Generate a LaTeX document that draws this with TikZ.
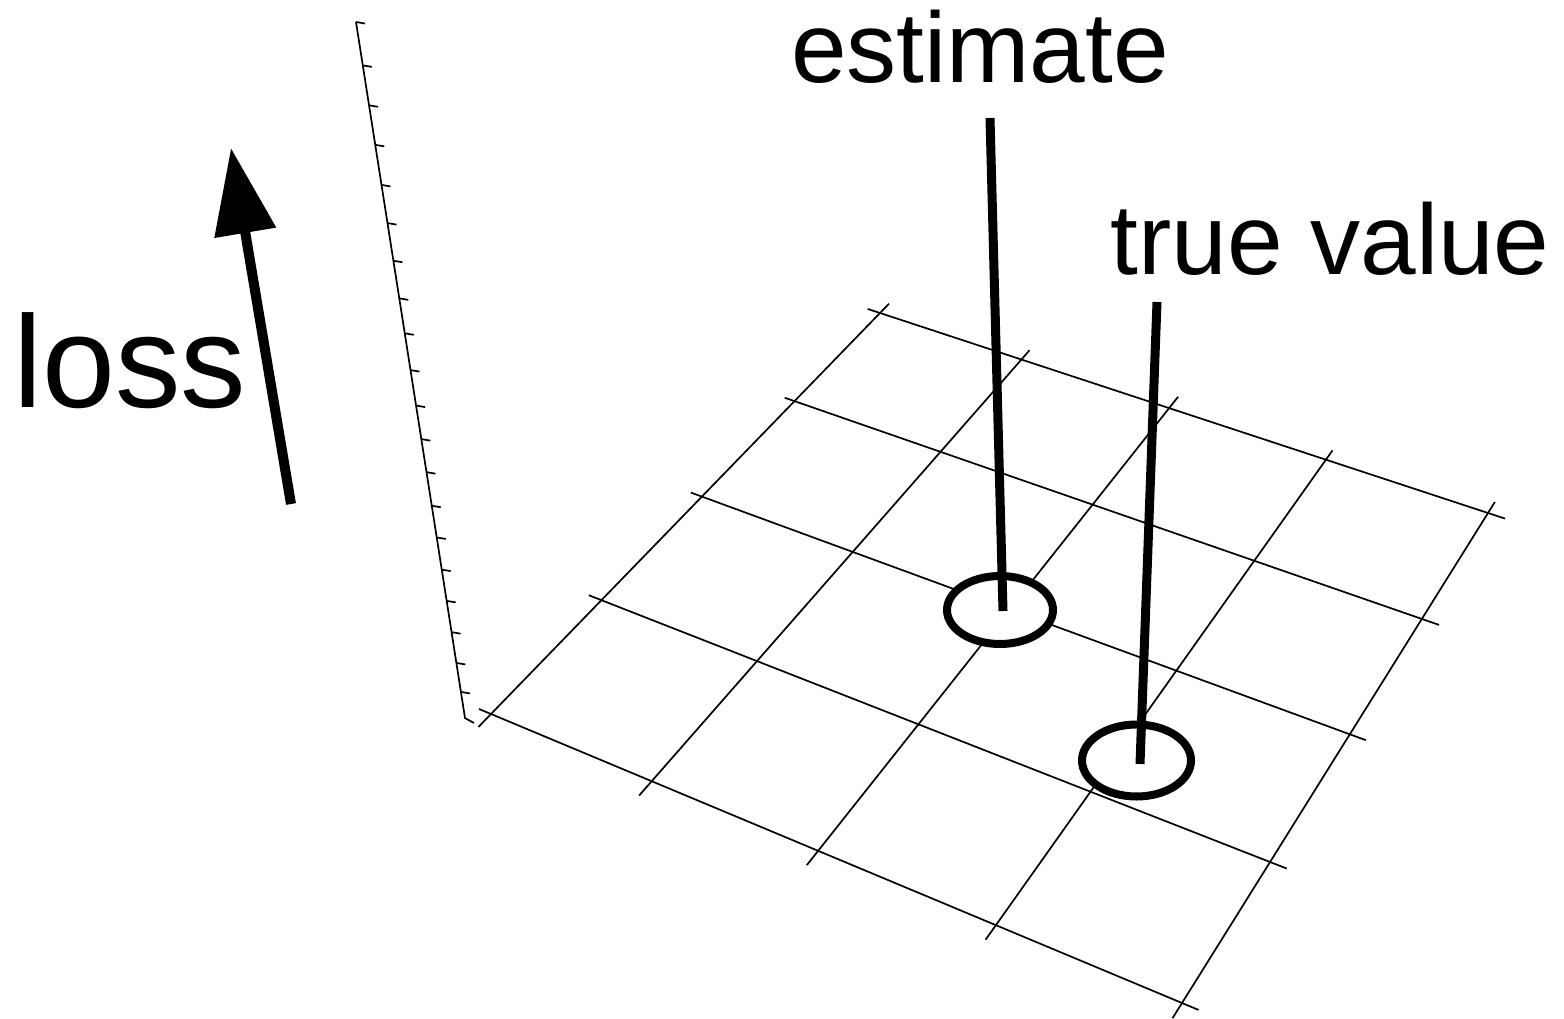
\documentclass[tikz,border=0pt]{standalone}
\usepackage{fontspec}
\setmainfont{Liberation Sans}
\usetikzlibrary{arrows.meta,calc}
\begin{document}
\begin{tikzpicture}[x=1pt,y=-1pt,
  gridline/.style={line width=1.7pt,black,shorten <=-13pt,shorten >=-18pt},
  axisline/.style={line width=1.7pt,black},
  pole/.style={line width=9pt,black},
  ring/.style={line width=8pt,black,fill=white},
  biglbl/.style={font=\fontsize{100}{120}\selectfont,anchor=base,inner sep=0pt},
  losslbl/.style={font=\fontsize{131}{150}\selectfont,anchor=base,inner sep=0pt}]
\useasboundingbox (0,0) rectangle (1564,1019);
% grid corners / edge points
\coordinate (a0l) at (880,313);  \coordinate (a0r) at (1488,513);
\coordinate (a1l) at (797,402);  \coordinate (a1r) at (1422,619);
\coordinate (a2l) at (703,497);  \coordinate (a2r) at (1349,734);
\coordinate (a3l) at (601,600);  \coordinate (a3r) at (1270,862);
\coordinate (a4l) at (491,714);  \coordinate (a4r) at (1182,1003);
\coordinate (b0t) at (880,313);  \coordinate (b0b) at (491,714);
\coordinate (b1t) at (1021,360); \coordinate (b1b) at (651,782);
\coordinate (b2t) at (1170,407); \coordinate (b2b) at (818,851);
\coordinate (b3t) at (1325,461); \coordinate (b3b) at (996,925);
\coordinate (b4t) at (1488,513); \coordinate (b4b) at (1182,1003);
\foreach \i in {0,...,4}{
  \draw[gridline] (a\i l) -- (a\i r);
  \draw[gridline] (b\i t) -- (b\i b);
}
% vertical loss axis with ticks
\coordinate (axtop) at (356,22);
\coordinate (axbot) at (465,718);
\coordinate (axhook) at (474,723);
\draw[axisline] (axtop) -- (axbot) -- (axhook);
\foreach \f in {0,0.0623,0.1197,0.1765,0.2341,0.2889,0.3430,0.3971,0.4473,0.5001,0.5511,0.5993,0.6468,0.6950,0.7406,0.7868,0.8317,0.8767,0.9209,0.9625}{
  \draw[axisline] ($(axtop)!\f!(axbot)$) -- ++(9,1.5);
}
% loss arrow and label
\coordinate (lossfrom) at (291,504);
\coordinate (lossto) at (231,148);
\draw[line width=10pt,-{Triangle[length=86pt,width=60pt]}] (lossfrom) -- (lossto);
\node[losslbl] (loss) at (130,407) {loss};
% estimate
\node[biglbl] (est) at (980,83) {estimate};
\coordinate (estc) at (1000,610);
\draw[ring] (estc) ellipse [x radius=53, y radius=34];
\coordinate (esttop) at (990,118);
\coordinate (estbot) at (1003,611);
\draw[pole] (esttop) -- (estbot);
% true value
\node[biglbl] (tru) at (1330,275) {true value};
\coordinate (truc) at (1136.5,760.5);
\draw[ring] (truc) ellipse [x radius=54.5, y radius=36];
\coordinate (trutop) at (1157,302);
\coordinate (trubot) at (1140,764);
\draw[pole] (trutop) -- (trubot);
\end{tikzpicture}
\end{document}
